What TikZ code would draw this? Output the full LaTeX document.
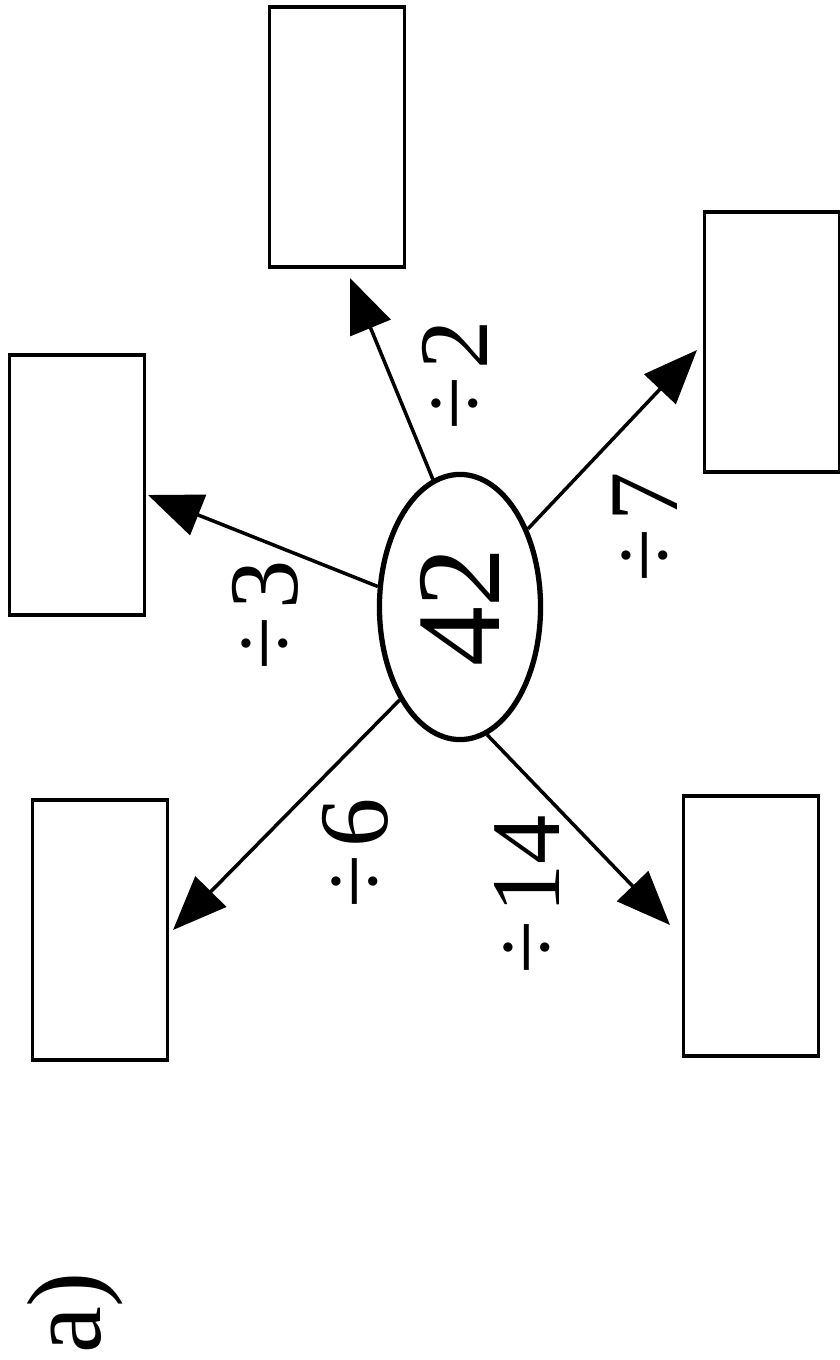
\documentclass[tikz,border=0pt]{standalone}
\usepackage{fontspec}
\setmainfont{Liberation Serif}
\newfontfamily\timesf{Liberation Serif}
\usetikzlibrary{arrows.meta,shapes.geometric}

\begin{document}
\begin{tikzpicture}[
  x=0.01cm, y=-0.01cm,
  box/.style={draw,line width=1pt,minimum width=1.35cm,minimum height=2.6cm,inner sep=0pt},
  num/.style={draw,ellipse,line width=1.5pt,minimum width=1.61cm,minimum height=2.65cm,inner sep=0pt,
    font=\timesf\fontsize{34}{36}\selectfont},
  lbl/.style={rotate=90,inner sep=0pt,font=\timesf\fontsize{28}{30}\selectfont},
  >={Triangle[length=5.4mm,width=4.3mm]}
]
  \useasboundingbox (0,0) rectangle (840,1360);
  % centre number
  \node[num] (n42) at (460,607) {\rotatebox{90}{42}};
  % empty answer boxes
  \node[box] (b2) at (337,137) {};
  \node[box] (b3) at (77,485) {};
  \node[box] (b7) at (772,342) {};
  \node[box] (b6) at (100,930) {};
  \node[box] (b14) at (751,926) {};
  % arrow ends
  \coordinate (e2) at (350,278);
  \coordinate (e3) at (148,495);
  \coordinate (e7) at (697,350);
  \coordinate (e6) at (173,930);
  \coordinate (e14) at (670,925);
  \draw[->,line width=1pt] (n42.102) -- (e2);
  \draw[->,line width=1pt] (n42.166) -- (e3);
  \draw[->,line width=1pt] (n42.49) -- (e7);
  \draw[->,line width=1pt] (n42.237) -- (e6);
  \draw[->,line width=1pt] (n42.282) -- (e14);
  % divisors
  \node[lbl] (l2) at (455,375) {÷\kern2pt2};
  \node[lbl] (l3) at (265,615) {÷\kern2pt3};
  \node[lbl] (l7) at (645,527) {÷\kern2pt7};
  \node[lbl] (l6) at (355,853) {÷\kern2pt6};
  \node[lbl] (l14) at (527,895) {÷\kern2pt14};
  \node[lbl,font=\timesf\fontsize{30}{32}\selectfont] (lab) at (75,1313) {a)};
\end{tikzpicture}
\end{document}
